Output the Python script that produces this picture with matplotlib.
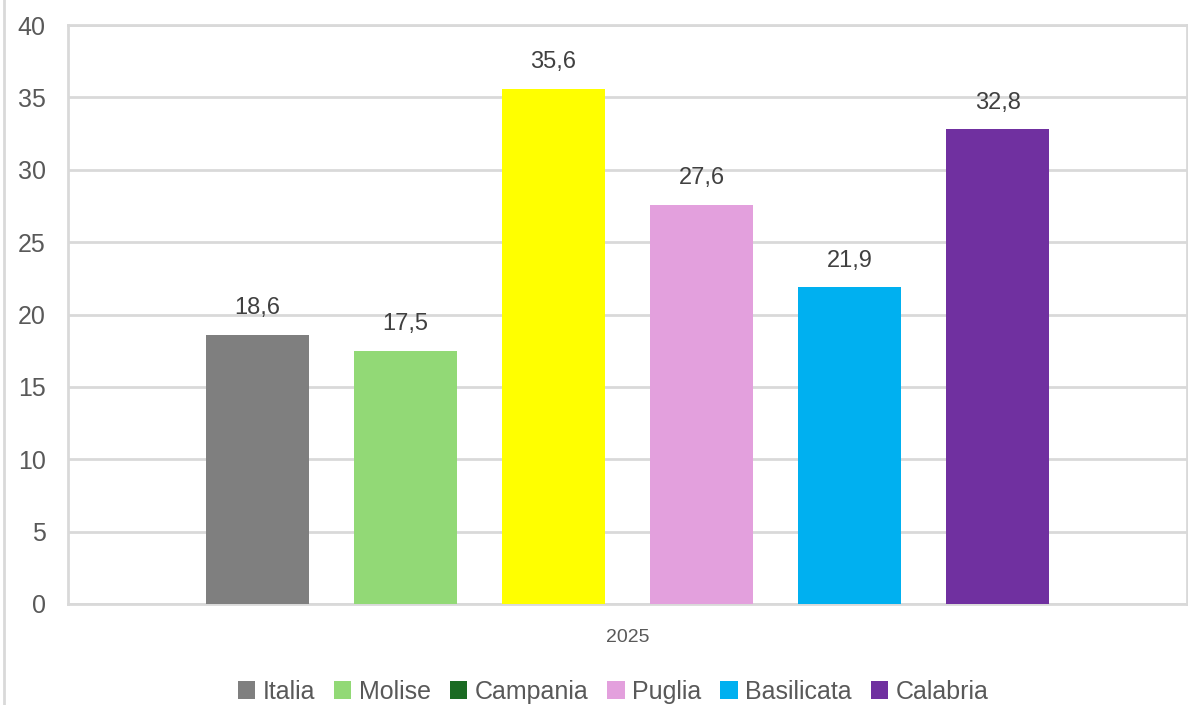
import matplotlib.pyplot as plt
from matplotlib.patches import Patch
from matplotlib.lines import Line2D

regions = ['Italia', 'Molise', 'Campania', 'Puglia', 'Basilicata', 'Calabria']
values = [18.6, 17.5, 35.6, 27.6, 21.9, 32.8]
value_labels = ['18,6', '17,5', '35,6', '27,6', '21,9', '32,8']
year_label = '2025'
y_ticks = [0, 5, 10, 15, 20, 25, 30, 35, 40]

# colori delle barre (la barra Campania è gialla, ma in legenda è verde scuro)
bar_colors = ['#7f7f7f', '#92d976', '#ffff00', '#e3a0dd', '#00b0f0', '#7030a0']
legend_colors = ['#7f7f7f', '#92d976', '#1b6b23', '#e3a0dd', '#00b0f0', '#7030a0']

plt.rcParams['font.family'] = ['Liberation Sans Narrow', 'Liberation Sans', 'DejaVu Sans']

fig = plt.figure(figsize=(11.88, 7.05), dpi=100)
ax = fig.add_axes([0.0572, 0.1433, 0.942, 0.8212])

x = list(range(len(regions)))
ax.bar(x, values, width=0.70, color=bar_colors, zorder=3)

for xi, v, lab in zip(x, values, value_labels):
    ax.annotate(lab, (xi, v), xytext=(0, 11), textcoords='offset points',
                ha='center', va='bottom', fontsize=17, color='#404040')

ax.set_ylim(0, 40)
ax.set_xlim(-1.28, 6.28)
ax.set_yticks(y_ticks)
ax.set_yticklabels([str(t) for t in y_ticks])
ax.tick_params(axis='y', length=0, labelsize=18, labelcolor='#595959', pad=16)
ax.set_xticks([2.5])
ax.set_xticklabels([year_label])
ax.tick_params(axis='x', length=0, labelsize=14, labelcolor='#595959', pad=18)
ax.grid(axis='y', color='#d9d9d9', linewidth=2, zorder=0)
for side in ax.spines.values():
    side.set_color('#d9d9d9')
    side.set_linewidth(2)

handles = [Patch(facecolor=c, edgecolor='none') for c in legend_colors]
fig.legend(handles, regions, loc='center', bbox_to_anchor=(0.516, 0.019), ncol=6,
           frameon=False, fontsize=18, labelcolor='#595959', handlelength=0.7,
           handleheight=0.7, handletextpad=0.3, columnspacing=0.75)

# bordo sinistro del riquadro del grafico
fig.add_artist(Line2D([0.003, 0.003], [0, 1], transform=fig.transFigure,
                      color='#d9d9d9', linewidth=2))

fig.savefig('out.png', dpi=100, facecolor='white')
